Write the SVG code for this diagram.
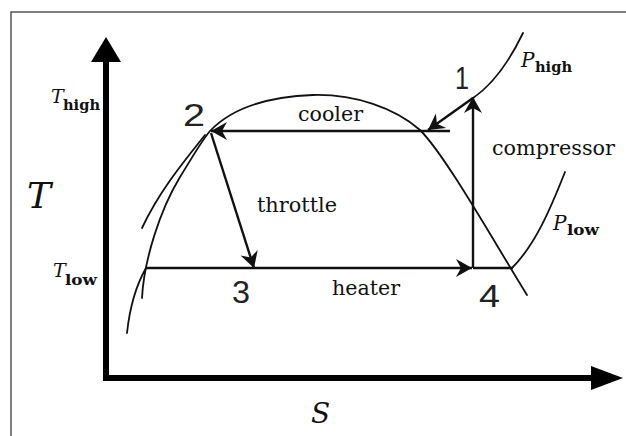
<svg xmlns="http://www.w3.org/2000/svg" width="626" height="436" viewBox="0 0 626 436">
<style>
.lbl{font-family:"DejaVu Serif","Liberation Serif",serif;font-size:20px;fill:#111}
.it{font-family:"DejaVu Serif","Liberation Serif",serif;font-style:italic;fill:#111}
.sub{font-family:"DejaVu Serif","Liberation Serif",serif;font-weight:bold;font-size:15px;fill:#111}
.num{font-family:"Liberation Sans","DejaVu Sans",sans-serif;font-size:31px;fill:#222}
.curve{fill:none;stroke:#111;stroke-width:1.8;stroke-linecap:round}
.conn{fill:none;stroke:#111;stroke-width:2.4}
</style>
<defs>
<marker id="ah" viewBox="-17 -10 18 20" refX="0" refY="0" markerWidth="18" markerHeight="20" markerUnits="userSpaceOnUse" orient="auto">
<path d="M0,0 L-16,-9 L-11,0 L-16,9 Z" fill="#111"/>
</marker>
</defs>
<rect width="626" height="436" fill="#fff"/>
<path d="M11,436 L11,12 L626,12" fill="none" stroke="#555" stroke-width="1.5"/>
<g id="axes">
<path d="M106,58 L106,378 L595,378" fill="none" stroke="#000" stroke-width="6"/>
<polygon points="106,37 91,62 121,62" fill="#000"/>
<polygon points="623,378 591,366 591,390" fill="#000"/>
</g>
<g id="curves">
<path id="dome" class="curve" d="M142,298 C144,260 160,210 180,177 C192,158 200,143 210,131 C228,112 260,97 313,95 C355,94 395,108 420,130 C445,155 490,235 527,295"/>
<path id="liquid-high" class="curve" d="M205,135 C185,160 160,190 142,228"/>
<path id="liquid-low" class="curve" d="M146,268 C138,282 130,305 127,333"/>
<path id="p-high" class="curve" d="M523,33 C510,60 495,83 473,98"/>
<path id="p-low" class="curve" d="M565,172 C550,210 535,245 512,268"/>
</g>
<g id="connectors">
<line class="conn" x1="450" y1="131" x2="211" y2="131" marker-end="url(#ah)"/>
<line class="conn" x1="473" y1="98" x2="428" y2="130" marker-end="url(#ah)"/>
<line class="conn" x1="473" y1="268" x2="473" y2="97" marker-end="url(#ah)"/>
<line class="conn" x1="211" y1="133" x2="254" y2="268" stroke-width="3" marker-end="url(#ah)"/>
<line class="conn" x1="145" y1="268" x2="472" y2="268" stroke-width="2" marker-end="url(#ah)"/>
<line class="conn" x1="473" y1="268" x2="513" y2="268" stroke-width="1.6"/>
</g>
<g id="node-1"><text class="num" x="455" y="89" textLength="14" lengthAdjust="spacingAndGlyphs">1</text></g>
<g id="node-2"><text class="num" x="183" y="126" textLength="22" lengthAdjust="spacingAndGlyphs">2</text></g>
<g id="node-3"><text class="num" x="232" y="303" textLength="18" lengthAdjust="spacingAndGlyphs">3</text></g>
<g id="node-4"><text class="num" x="479" y="307" textLength="21" lengthAdjust="spacingAndGlyphs">4</text></g>
<g id="labels">
<text class="lbl" x="298" y="121" textLength="65" lengthAdjust="spacingAndGlyphs">cooler</text>
<text class="lbl" x="257" y="212" textLength="80" lengthAdjust="spacingAndGlyphs">throttle</text>
<text class="lbl" x="492" y="155" textLength="123" lengthAdjust="spacingAndGlyphs">compressor</text>
<text class="lbl" x="332" y="295" textLength="68" lengthAdjust="spacingAndGlyphs">heater</text>
<text class="it" x="27" y="208" font-size="36">T</text>
<text class="it" x="51" y="103" font-size="19">T</text>
<text class="sub" x="63" y="110" textLength="37" lengthAdjust="spacingAndGlyphs">high</text>
<text class="it" x="53" y="277" font-size="19">T</text>
<text class="sub" x="65" y="285" textLength="32" lengthAdjust="spacingAndGlyphs">low</text>
<text class="it" x="521" y="67" font-size="20">P</text>
<text class="sub" x="535" y="72" textLength="37" lengthAdjust="spacingAndGlyphs">high</text>
<text class="it" x="553" y="230" font-size="20">P</text>
<text class="sub" x="567" y="235" textLength="32" lengthAdjust="spacingAndGlyphs">low</text>
<text class="it" x="311" y="423" font-size="28">S</text>
</g>
</svg>
